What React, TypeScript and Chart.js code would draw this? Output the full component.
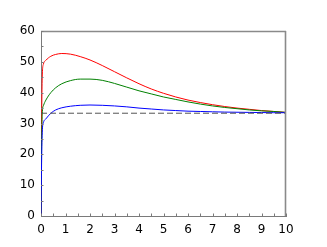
import React, { useEffect, useRef } from "react";
import { Chart, registerables } from "chart.js";

Chart.register(...registerables);

const times = [0, 0.02, 0.05, 0.1, 0.2, 0.4, 0.6, 0.85, 1.2, 1.6, 2, 2.5, 3, 3.5, 4, 4.5, 5, 5.5, 6, 6.5, 7, 7.5, 8, 8.5, 9, 9.5, 10];
const redValues = [0, 25, 45, 49.3, 50.5, 51.8, 52.4, 52.7, 52.5, 51.7, 50.6, 48.8, 46.8, 44.8, 42.9, 41.2, 39.8, 38.6, 37.6, 36.8, 36.1, 35.5, 35.0, 34.6, 34.2, 33.9, 33.6];
const greenValues = [0, 20, 33, 35.8, 37.6, 40.0, 41.6, 42.9, 43.9, 44.4, 44.4, 44.0, 43.0, 41.8, 40.6, 39.6, 38.6, 37.8, 37.0, 36.3, 35.7, 35.2, 34.8, 34.4, 34.1, 33.9, 33.6];
const blueValues = [0, 15, 27, 30.3, 31.5, 33.3, 34.4, 35.1, 35.6, 35.9, 36.0, 35.9, 35.7, 35.4, 35.0, 34.7, 34.4, 34.2, 34.0, 33.9, 33.8, 33.7, 33.65, 33.6, 33.55, 33.5, 33.5];
const refX = [0, 10];
const refValues = [33.33, 33.33];
const xTickValues = [0, 0.5, 1, 1.5, 2, 2.5, 3, 3.5, 4, 4.5, 5, 5.5, 6, 6.5, 7, 7.5, 8, 8.5, 9, 9.5, 10];
const yTickValues = [0, 5, 10, 15, 20, 25, 30, 35, 40, 45, 50, 55, 60];

const AXIS_COLOR = "#7a7a7a";

const toPoints = (xs: number[], ys: number[]) => xs.map((x, i) => ({ x, y: ys[i] }));

const frameTicks = {
  id: "frameTicks",
  afterDraw(chart: any) {
    const { ctx, chartArea, scales } = chart;
    const xs = scales.x;
    const ys = scales.y;
    ctx.save();
    ctx.strokeStyle = "#8a8a8a";
    ctx.lineWidth = 1.6;
    ctx.beginPath();
    ctx.moveTo(chartArea.left, chartArea.top + 0.5);
    ctx.lineTo(chartArea.right, chartArea.top + 0.5);
    ctx.moveTo(chartArea.right - 0.5, chartArea.top);
    ctx.lineTo(chartArea.right - 0.5, chartArea.bottom);
    ctx.stroke();
    ctx.strokeStyle = AXIS_COLOR;
    ctx.lineWidth = 1;
    ctx.beginPath();
    for (const v of xTickValues) {
      const px = Math.round(xs.getPixelForValue(v)) + 0.5;
      ctx.moveTo(px, chartArea.bottom);
      ctx.lineTo(px, chartArea.bottom - 2.5);
    }
    for (const v of yTickValues) {
      const py = Math.round(ys.getPixelForValue(v)) + 0.5;
      ctx.moveTo(chartArea.left, py);
      ctx.lineTo(chartArea.left + 2.5, py);
    }
    ctx.stroke();
    ctx.restore();
  },
};

export default function App() {
  const canvasRef = useRef<HTMLCanvasElement | null>(null);

  useEffect(() => {
    const canvas = canvasRef.current;
    if (!canvas) return;
    const chart = new Chart(canvas, {
      type: "line",
      data: {
        datasets: [
          {
            data: toPoints(refX, refValues),
            borderColor: "#555555",
            borderWidth: 1,
            borderDash: [6, 3],
            pointRadius: 0,
          },
          {
            data: toPoints(times, blueValues),
            borderColor: "#0000ff",
            borderWidth: 1,
            pointRadius: 0,
            cubicInterpolationMode: "monotone",
          },
          {
            data: toPoints(times, greenValues),
            borderColor: "#008000",
            borderWidth: 1,
            pointRadius: 0,
            cubicInterpolationMode: "monotone",
          },
          {
            data: toPoints(times, redValues),
            borderColor: "#ff0000",
            borderWidth: 1,
            pointRadius: 0,
            cubicInterpolationMode: "monotone",
          },
        ],
      },
      options: {
        animation: false,
        responsive: false,
        maintainAspectRatio: false,
        devicePixelRatio: 1,
        layout: { padding: { top: 31, right: 41, left: 0, bottom: 0 } },
        plugins: { legend: { display: false }, tooltip: { enabled: false } },
        scales: {
          x: {
            type: "linear",
            min: 0,
            max: 10,
            afterFit: (s: any) => {
              s.height = 31;
            },
            grid: { display: false, drawTicks: false },
            border: { display: true, color: AXIS_COLOR, width: 1 },
            ticks: {
              stepSize: 1,
              padding: 7,
              color: "#000",
              font: { family: "DejaVu Sans", size: 12 },
              maxRotation: 0,
            },
          },
          y: {
            type: "linear",
            min: 0,
            max: 60,
            afterFit: (s: any) => {
              s.width = 41;
            },
            grid: { display: false, drawTicks: false },
            border: { display: true, color: AXIS_COLOR, width: 1 },
            ticks: {
              stepSize: 10,
              padding: 6,
              color: "#000",
              font: { family: "DejaVu Sans", size: 12 },
            },
          },
        },
      },
      plugins: [frameTicks],
    });
    return () => chart.destroy();
  }, []);

  return (
    <div style={{ position: "absolute", left: 0, top: 0, width: 327, height: 247, background: "#fff" }}>
      <canvas ref={canvasRef} width={327} height={247} style={{ width: 327, height: 247, display: "block" }} />
    </div>
  );
}
